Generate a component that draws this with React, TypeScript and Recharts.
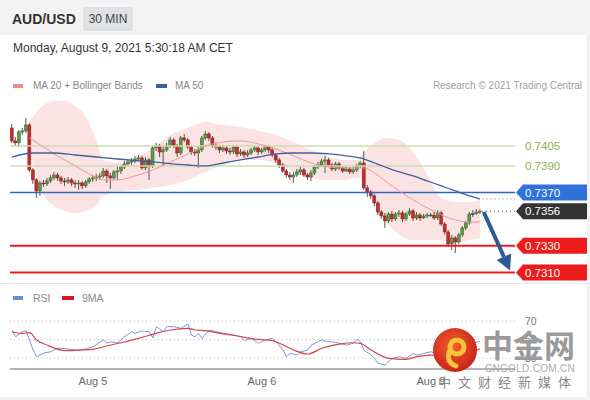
import React from 'react';
import { ComposedChart, Bar, Line, Area, XAxis, YAxis, ReferenceLine } from 'recharts';

// ---------- price data (30 min candles, bar index 0..133) ----------
const firstOpen = 0.74185;
const closes = [
  0.74088, 0.74073, 0.74155, 0.74163, 0.74208, 0.73870, 0.73795, 0.73712, 0.73772, 0.73765,
  0.73787, 0.73810, 0.73832, 0.73810, 0.73787, 0.73780, 0.73795, 0.73772, 0.73765, 0.73772,
  0.73750, 0.73780, 0.73802, 0.73810, 0.73817, 0.73825, 0.73862, 0.73825, 0.73810, 0.73855,
  0.73862, 0.73892, 0.73915, 0.73930, 0.73937, 0.73952, 0.73960, 0.73885, 0.73945, 0.73900,
  0.74035, 0.74050, 0.74005, 0.74020, 0.74050, 0.74095, 0.74050, 0.73997, 0.74110, 0.74095,
  0.74042, 0.74005, 0.73997, 0.74020, 0.74110, 0.74140, 0.74110, 0.74050, 0.74042, 0.74020,
  0.74035, 0.74012, 0.74005, 0.74042, 0.73990, 0.74005, 0.73982, 0.73997, 0.74020, 0.74035,
  0.74005, 0.74020, 0.74042, 0.74020, 0.73982, 0.73945, 0.73907, 0.73862, 0.73832, 0.73817,
  0.73832, 0.73855, 0.73870, 0.73832, 0.73817, 0.73847, 0.73892, 0.73907, 0.73937, 0.73945,
  0.73907, 0.73877, 0.73915, 0.73885, 0.73862, 0.73877, 0.73855, 0.73870, 0.73900, 0.73922,
  0.73735, 0.73705, 0.73675, 0.73622, 0.73554, 0.73524, 0.73487, 0.73539, 0.73502, 0.73539,
  0.73547, 0.73502, 0.73539, 0.73562, 0.73509, 0.73532, 0.73509, 0.73524, 0.73532, 0.73530,
  0.73509, 0.73547, 0.73464, 0.73404, 0.73314, 0.73359, 0.73329, 0.73382, 0.73434, 0.73472,
  0.73539, 0.73541, 0.73554, 0.73560,
];
const highs = [
  0.74215, 0.74118, 0.74170, 0.74185, 0.74260, 0.74223, 0.73885, 0.73810, 0.73787, 0.73795,
  0.73810, 0.73832, 0.73855, 0.73847, 0.73825, 0.73810, 0.73817, 0.73810, 0.73795, 0.73795,
  0.73787, 0.73795, 0.73817, 0.73832, 0.73840, 0.73847, 0.73885, 0.73877, 0.73847, 0.73870,
  0.73900, 0.73907, 0.73937, 0.73952, 0.73960, 0.73975, 0.73982, 0.73975, 0.73967, 0.73960,
  0.74050, 0.74073, 0.74065, 0.74050, 0.74073, 0.74118, 0.74110, 0.74065, 0.74125, 0.74140,
  0.74110, 0.74058, 0.74027, 0.74042, 0.74125, 0.74163, 0.74155, 0.74125, 0.74073, 0.74058,
  0.74058, 0.74050, 0.74035, 0.74058, 0.74058, 0.74027, 0.74020, 0.74020, 0.74035, 0.74050,
  0.74050, 0.74035, 0.74058, 0.74058, 0.74035, 0.73997, 0.73960, 0.73922, 0.73877, 0.73855,
  0.73855, 0.73877, 0.73892, 0.73885, 0.73847, 0.73870, 0.73907, 0.73930, 0.73952, 0.73975,
  0.73960, 0.73922, 0.73930, 0.73930, 0.73900, 0.73900, 0.73892, 0.73892, 0.73915, 0.73937,
  0.74012, 0.73757, 0.73720, 0.73690, 0.73637, 0.73569, 0.73547, 0.73554, 0.73562, 0.73554,
  0.73569, 0.73562, 0.73554, 0.73584, 0.73577, 0.73554, 0.73547, 0.73539, 0.73547, 0.73547,
  0.73554, 0.73569, 0.73562, 0.73479, 0.73419, 0.73382, 0.73374, 0.73397, 0.73449, 0.73487,
  0.73554, 0.73569, 0.73577, 0.73577,
];
const lows = [
  0.74073, 0.74050, 0.74042, 0.74133, 0.74148, 0.73855, 0.73765, 0.73660, 0.73675, 0.73742,
  0.73750, 0.73772, 0.73795, 0.73787, 0.73765, 0.73750, 0.73765, 0.73750, 0.73735, 0.73720,
  0.73727, 0.73735, 0.73765, 0.73780, 0.73787, 0.73795, 0.73810, 0.73772, 0.73727, 0.73795,
  0.73795, 0.73840, 0.73877, 0.73900, 0.73907, 0.73922, 0.73937, 0.73870, 0.73870, 0.73795,
  0.73885, 0.74012, 0.73967, 0.73900, 0.74005, 0.74035, 0.74035, 0.73967, 0.73982, 0.74080,
  0.74027, 0.73982, 0.73975, 0.73885, 0.74005, 0.74095, 0.74088, 0.74035, 0.74020, 0.73997,
  0.74005, 0.73990, 0.73982, 0.73990, 0.73967, 0.73975, 0.73960, 0.73967, 0.73982, 0.74005,
  0.73982, 0.73990, 0.74005, 0.73997, 0.73967, 0.73922, 0.73885, 0.73847, 0.73810, 0.73795,
  0.73772, 0.73817, 0.73832, 0.73817, 0.73795, 0.73787, 0.73832, 0.73877, 0.73892, 0.73847,
  0.73892, 0.73862, 0.73862, 0.73870, 0.73847, 0.73855, 0.73840, 0.73840, 0.73855, 0.73885,
  0.73720, 0.73667, 0.73652, 0.73599, 0.73532, 0.73502, 0.73434, 0.73472, 0.73479, 0.73487,
  0.73517, 0.73479, 0.73487, 0.73524, 0.73487, 0.73494, 0.73487, 0.73502, 0.73509, 0.73517,
  0.73494, 0.73494, 0.73449, 0.73382, 0.73292, 0.73269, 0.73246, 0.73314, 0.73367, 0.73419,
  0.73457, 0.73517, 0.73532, 0.73539,
];

// ---------- MA20 + Bollinger bands ----------
const indBars = [5, 9, 12, 15, 18, 21, 24, 26, 30, 35, 40, 45, 50, 55, 60, 65, 70, 75, 80, 85, 90, 95, 98, 100, 103, 106, 110, 114, 118, 122, 126, 130, 133];
const ma20 = [0.74110, 0.74042, 0.73990, 0.73945, 0.73900, 0.73855, 0.73810, 0.73795, 0.73795, 0.73825, 0.73870, 0.73930, 0.73990, 0.74050, 0.74080, 0.74088, 0.74065, 0.74027, 0.73975, 0.73922, 0.73892, 0.73885, 0.73885, 0.73885, 0.73847, 0.73787, 0.73712, 0.73645, 0.73584, 0.73532, 0.73494, 0.73479, 0.73479];
const bbUpper = [0.74230, 0.74358, 0.74388, 0.74388, 0.74350, 0.74268, 0.74095, 0.73945, 0.73922, 0.73960, 0.74035, 0.74133, 0.74185, 0.74230, 0.74208, 0.74193, 0.74163, 0.74133, 0.74080, 0.74020, 0.73967, 0.73945, 0.73945, 0.74005, 0.74073, 0.74110, 0.74095, 0.74005, 0.73832, 0.73660, 0.73629, 0.73629, 0.73645];
const bbLower = [0.74020, 0.73682, 0.73599, 0.73562, 0.73547, 0.73562, 0.73607, 0.73675, 0.73705, 0.73720, 0.73735, 0.73757, 0.73795, 0.73855, 0.73907, 0.73945, 0.73945, 0.73922, 0.73855, 0.73810, 0.73795, 0.73795, 0.73810, 0.73780, 0.73645, 0.73494, 0.73382, 0.73344, 0.73344, 0.73344, 0.73322, 0.73344, 0.73359];

// ---------- MA50 ----------
const ma50Bars = [0, 6, 12, 18, 24, 30, 40, 50, 55, 60, 65, 70, 75, 80, 85, 90, 95, 100, 103, 106, 110, 114, 118, 122, 126, 130, 133];
const ma50 = [0.73967, 0.73997, 0.73997, 0.73982, 0.73967, 0.73952, 0.73930, 0.73907, 0.73900, 0.73922, 0.73945, 0.73967, 0.73990, 0.73997, 0.73997, 0.73990, 0.73975, 0.73952, 0.73922, 0.73892, 0.73855, 0.73825, 0.73787, 0.73750, 0.73712, 0.73675, 0.73652];

// ---------- levels ----------
type Kind = 'green' | 'blue' | 'red' | 'dark';
const levelValues = [0.7405, 0.7390, 0.7370, 0.7330, 0.7310];
const levelKinds: Kind[] = ['green', 'green', 'blue', 'red', 'red'];
const lastPrice = 0.7356;
const arrowTarget = 0.73115;

// ---------- RSI ----------
const rsiBars = [0, 1, 3, 4, 6, 7, 9, 11, 13, 16, 18, 21, 23, 26, 27, 28, 30, 32, 34, 35, 37, 39, 40, 41, 43, 44, 46, 48, 50, 51, 52, 53, 54, 56, 58, 60, 63, 65, 66, 68, 70, 72, 74, 75, 77, 78, 79, 81, 82, 84, 85, 87, 88, 90, 91, 93, 95, 97, 98, 99, 100, 102, 103, 104, 106, 108, 110, 112, 114, 115, 117, 119, 121, 123, 124, 126, 128, 130, 132, 133];
const rsiValues = [60, 53, 58.5, 59.5, 38.6, 31.4, 35.4, 36.8, 40.8, 39.7, 38.6, 39.7, 42.2, 49.5, 46, 47.6, 46.5, 53, 58.4, 56.7, 59.2, 58.4, 51.6, 63.9, 58.4, 63.9, 63.9, 62.1, 66.8, 54.9, 53, 56.7, 51.3, 60.3, 58.4, 56.7, 54.9, 53, 48.7, 51.3, 45.9, 49.5, 51.3, 47.6, 38.6, 31.4, 35, 33.2, 36.8, 38.6, 44, 47.6, 49.5, 47.6, 47.6, 45.9, 44, 45.9, 50.2, 47.6, 38.6, 33.2, 29.6, 24.2, 22.4, 29.6, 31.4, 29.6, 35, 33.2, 35, 36.8, 34, 28, 24, 27, 36, 45, 47, 48];
const rsiMaBars = [0, 3, 5, 7, 10, 14, 16, 19, 23, 26, 31, 36, 41, 45, 50, 52, 55, 60, 64, 69, 74, 76, 80, 84, 88, 93, 97, 99, 102, 107, 112, 115, 119, 124, 128, 133];
const rsiMaValues = [58.4, 56.7, 57.4, 49.5, 44, 38.6, 37.9, 38.6, 39.4, 42.2, 46.5, 51.3, 56.7, 60.3, 62.1, 60.3, 59.5, 56, 53.8, 50.5, 48.7, 45.9, 38.6, 34.3, 40.5, 45.1, 46.5, 45.9, 38.6, 29.6, 28.5, 31.4, 33.2, 31, 33, 40];
const rsiLevels = [70, 50, 30];

// ---------- time axis ----------
const dateTicks = [23, 71, 119];
const dateLabels = ['Aug 5', 'Aug 6', 'Aug 9'];

const X_DOMAIN: [number, number] = [-0.57, 142.9];
const PRICE_DOMAIN: [number, number] = [0.73006, 0.74395];
const RSI_DOMAIN: [number, number] = [18, 80];
const FONT = '"Liberation Sans", Arial, Helvetica, sans-serif';

const Candle = (props: any) => {
  const { x, y, width, height, payload } = props;
  if (!payload || x == null) return null;
  const { open, close, high, low } = payload;
  const top = Math.min(y, y + height);
  const h = Math.abs(height);
  const k = high - low > 0 ? h / (high - low) : 0;
  const cx = x + width / 2;
  const yO = top + (high - open) * k;
  const yC = top + (high - close) * k;
  const up = close > open;
  const flat = Math.abs(close - open) < 0.00003;
  const bodyTop = Math.min(yO, yC);
  const bodyH = Math.max(1, Math.abs(yO - yC));
  const fill = flat ? '#555' : up ? '#5b9646' : '#c02b2b';
  const stroke = flat ? '#444' : up ? '#3c6a2c' : '#8f1f1f';
  return (
    <g>
      <line x1={cx} x2={cx} y1={top} y2={top + h} stroke="#555" strokeWidth={1} />
      <rect x={cx - 1.5} y={bodyTop} width={3} height={bodyH} fill={fill} stroke={stroke} strokeWidth={0.5} />
    </g>
  );
};

const LevelTag = (props: any) => {
  const { viewBox, value, kind } = props;
  if (!viewBox) return null;
  const x0 = viewBox.x + viewBox.width;
  const y = viewBox.y;
  const txt = value.toFixed(4);
  if (kind === 'green') {
    return (
      <text x={x0 + 10} y={y} dy="0.36em" fill="#8db04f" fontSize={11.5} fontFamily={FONT}>{txt}</text>
    );
  }
  const fill = kind === 'blue' ? '#2f72dc' : kind === 'red' ? '#ee1b1b' : '#333333';
  return (
    <g>
      <polygon
        points={`${x0 + 1},${y} ${x0 + 8},${y - 8} ${x0 + 72},${y - 8} ${x0 + 72},${y + 8} ${x0 + 8},${y + 8}`}
        fill={fill}
      />
      <text x={x0 + 10} y={y} dy="0.36em" fill="#fff" fontSize={11.5} fontFamily={FONT}>{txt}</text>
    </g>
  );
};

const RsiTag = (props: any) => {
  const { viewBox, value } = props;
  if (!viewBox) return null;
  return (
    <text x={viewBox.x + viewBox.width + 10} y={viewBox.y} dy="0.36em" fill="#777" fontSize={10.5} fontFamily={FONT}>{value}</text>
  );
};

const ArrowShape = (p: any) => {
  const x1 = Number(p.x1), y1 = Number(p.y1), x2 = Number(p.x2), y2 = Number(p.y2);
  if (!isFinite(x1) || !isFinite(x2)) return <g />;
  const ang = Math.atan2(y2 - y1, x2 - x1);
  const hl = 15, hw = 8;
  const bx = x2 - hl * Math.cos(ang), by = y2 - hl * Math.sin(ang);
  const px = -Math.sin(ang) * hw, py = Math.cos(ang) * hw;
  return (
    <g>
      <line x1={x1} y1={y1} x2={bx} y2={by} stroke="#2d5b97" strokeWidth={4} />
      <polygon points={`${x2},${y2} ${bx + px},${by + py} ${bx - px},${by - py}`} fill="#2d5b97" />
    </g>
  );
};

const levelStroke = (k: Kind) => (k === 'green' ? '#cddcb0' : k === 'blue' ? '#2c64c4' : '#e51e1e');
const levelWidth = (k: Kind) => (k === 'red' ? 2 : 1.5);

export default function App() {
  const candles = closes.map((c, i) => ({
    bar: i,
    open: i === 0 ? firstOpen : closes[i - 1],
    close: c,
    high: highs[i],
    low: lows[i],
  }));
  const band = indBars.map((b, i) => ({ bar: b, lower: bbLower[i], upper: bbUpper[i] }));
  const ma20Data = indBars.map((b, i) => ({ bar: b, v: ma20[i] }));
  const ma50Data = ma50Bars.map((b, i) => ({ bar: b, v: ma50[i] }));
  const rsiData = rsiBars.map((b, i) => ({ bar: b, rsi: rsiValues[i] }));
  const rsiMaData = rsiMaBars.map((b, i) => ({ bar: b, v: rsiMaValues[i] }));
  const lastBar = closes.length - 1;
  const ma50Last = ma50[ma50.length - 1];

  return (
    <div style={{ position: 'absolute', left: 0, top: 0, width: 590, height: 400, background: '#f3f3f3', overflow: 'hidden', fontFamily: FONT }}>
      {/* header */}
      <div style={{ position: 'absolute', left: 12, top: 9, fontSize: 14, fontWeight: 'bold', color: '#333', lineHeight: '20px' }}>AUD/USD</div>
      <div style={{ position: 'absolute', left: 83, top: 7, width: 50, height: 24, background: '#dfe1e4', borderRadius: 2, fontSize: 12, color: '#444', lineHeight: '24px', textAlign: 'center' }}>30 MIN</div>
      {/* panel */}
      <div style={{ position: 'absolute', left: 0, top: 35, width: 587, height: 362, background: '#fff' }} />
      <div style={{ position: 'absolute', left: 0, top: 283, width: 587, height: 1, background: '#e6e6e6' }} />
      <div style={{ position: 'absolute', left: 13, top: 41, fontSize: 12, color: '#333', lineHeight: '14px', whiteSpace: 'nowrap' }}>Monday, August 9, 2021 5:30:18 AM CET</div>

      {/* price legend */}
      <div style={{ position: 'absolute', left: 13, top: 84, width: 10, height: 4, background: '#f08c8c' }} />
      <div style={{ position: 'absolute', left: 33, top: 80, fontSize: 10, color: '#888', lineHeight: '12px', whiteSpace: 'nowrap' }}>MA 20 + Bollinger Bands</div>
      <div style={{ position: 'absolute', left: 156, top: 84, width: 11, height: 4, background: '#3d5f9e' }} />
      <div style={{ position: 'absolute', left: 175, top: 80, fontSize: 10, color: '#888', lineHeight: '12px', whiteSpace: 'nowrap' }}>MA 50</div>
      <div style={{ position: 'absolute', right: 8, top: 80, fontSize: 10, color: '#a0a0a0', lineHeight: '12px', whiteSpace: 'nowrap' }}>Research © 2021 Trading Central</div>

      {/* price chart */}
      <div style={{ position: 'absolute', left: 0, top: 90 }}>
        <ComposedChart width={590} height={200} data={candles} margin={{ top: 10, right: 75, bottom: 5, left: 10 }}>
          <XAxis type="number" dataKey="bar" domain={X_DOMAIN} allowDataOverflow hide />
          <YAxis type="number" domain={PRICE_DOMAIN} allowDataOverflow hide />
          <Area
            data={band}
            dataKey={(d: any) => [d.lower, d.upper]}
            type="monotone"
            fill="#fce3e3"
            fillOpacity={1}
            stroke="none"
            isAnimationActive={false}
          />
          {levelValues.map((v, i) => (
            <ReferenceLine
              key={'lv' + i}
              y={v}
              stroke={levelStroke(levelKinds[i])}
              strokeWidth={levelWidth(levelKinds[i])}
              label={<LevelTag value={v} kind={levelKinds[i]} />}
            />
          ))}
          <Line data={ma20Data} dataKey="v" type="monotone" stroke="#e39a9a" strokeWidth={1} dot={false} isAnimationActive={false} />
          <Line data={ma50Data} dataKey="v" type="monotone" stroke="#41609e" strokeWidth={1.3} dot={false} isAnimationActive={false} />
          <Bar dataKey={(d: any) => [d.low, d.high]} barSize={3} shape={(p: any) => <Candle {...p} />} isAnimationActive={false} />
          <ReferenceLine
            segment={[{ x: lastBar - 0.5, y: ma50Last }, { x: X_DOMAIN[1], y: ma50Last }]}
            stroke="#777"
            strokeDasharray="1 3"
          />
          <ReferenceLine
            segment={[{ x: lastBar + 0.5, y: lastPrice }, { x: X_DOMAIN[1], y: lastPrice }]}
            stroke="#555"
            strokeDasharray="1 3"
            label={<LevelTag value={lastPrice} kind="dark" />}
          />
          <ReferenceLine
            segment={[{ x: lastBar + 1, y: 0.73554 }, { x: lastBar + 8.5, y: arrowTarget }]}
            shape={(p: any) => <ArrowShape {...p} />}
          />
        </ComposedChart>
      </div>

      {/* RSI legend */}
      <div style={{ position: 'absolute', left: 13, top: 296, width: 10, height: 4, background: '#6d8fd6' }} />
      <div style={{ position: 'absolute', left: 33, top: 292, fontSize: 10.5, color: '#888', lineHeight: '12px' }}>RSI</div>
      <div style={{ position: 'absolute', left: 62, top: 296, width: 12, height: 4, background: '#e0141e' }} />
      <div style={{ position: 'absolute', left: 82, top: 292, fontSize: 10.5, color: '#888', lineHeight: '12px' }}>9MA</div>

      {/* RSI chart */}
      <div style={{ position: 'absolute', left: 0, top: 300 }}>
        <ComposedChart width={590} height={100} data={rsiData} margin={{ top: 11.75, right: 75, bottom: 0.9, left: 10 }}>
          <XAxis
            type="number"
            dataKey="bar"
            domain={X_DOMAIN}
            allowDataOverflow
            ticks={dateTicks}
            interval={0}
            tickFormatter={(v: number) => dateLabels[dateTicks.indexOf(v)] ?? ''}
            axisLine={{ stroke: '#b3b3b3', strokeWidth: 2 }}
            tickLine={false}
            tick={{ fill: '#666', fontSize: 11, fontFamily: FONT }}
            height={30}
          />
          <YAxis type="number" domain={RSI_DOMAIN} allowDataOverflow hide />
          {rsiLevels.map((v) => (
            <ReferenceLine key={'r' + v} y={v} stroke="#bdbdbd" strokeDasharray="1 3" label={<RsiTag value={v} />} />
          ))}
          <Line dataKey="rsi" type="linear" stroke="#7c97d6" strokeWidth={1} dot={false} isAnimationActive={false} />
          <Line data={rsiMaData} dataKey="v" type="monotone" stroke="#d6434f" strokeWidth={1.2} dot={false} isAnimationActive={false} />
        </ComposedChart>
      </div>

      {/* watermark */}
      <div style={{ position: 'absolute', left: 430, top: 322, width: 160, height: 75, pointerEvents: 'none' }}>
        <svg width={160} height={75}>
          <defs>
            <radialGradient id="wmg" cx="45%" cy="40%" r="60%">
              <stop offset="0%" stopColor="#f0622a" />
              <stop offset="100%" stopColor="#c8231a" />
            </radialGradient>
          </defs>
          <circle cx={25} cy={28} r={22} fill="url(#wmg)" />
          <circle cx={27} cy={25} r={7} fill="none" stroke="#f8c23c" strokeWidth={5} />
          <path d="M 20 28 Q 15 40 26 44" fill="none" stroke="#f8c23c" strokeWidth={5} strokeLinecap="round" />
          <text x={52} y={35} fontSize={31} fontWeight={700} fill="#9a9a9a" fontFamily='"Noto Sans CJK SC", sans-serif'>中金网</text>
          <text x={55} y={50} fontSize={10} fill="#aaa" fontFamily={FONT} letterSpacing={0.3}>CNGOLD.COM.CN</text>
          <text x={8} y={65} fontSize={13} fill="#888" fontFamily='"Noto Sans CJK SC", sans-serif' letterSpacing={7}>中文财经新媒体</text>
        </svg>
      </div>
    </div>
  );
}
